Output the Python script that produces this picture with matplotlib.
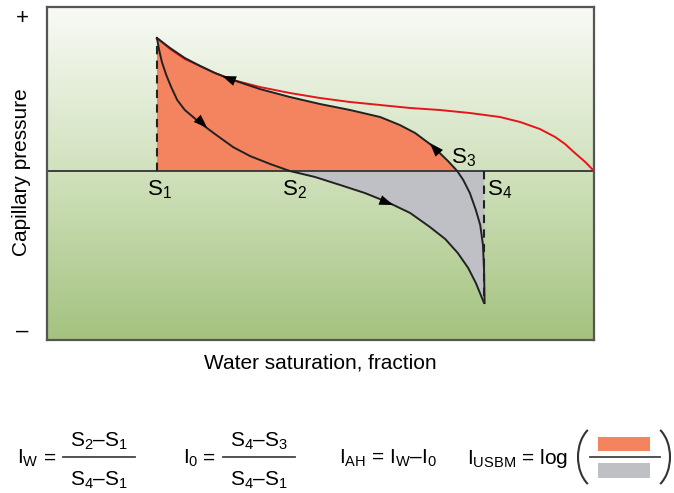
import numpy as np
import matplotlib
matplotlib.use("Agg")
from matplotlib import pyplot as plt
from matplotlib.colors import LinearSegmentedColormap
from matplotlib.patches import Arc, Rectangle

plt.rcParams["font.family"] = ["Liberation Sans", "DejaVu Sans"]
plt.rcParams["mathtext.fontset"] = "custom"
plt.rcParams["mathtext.rm"] = "Liberation Sans"
plt.rcParams["mathtext.it"] = "Liberation Sans"

# saturation (fraction of axis) and capillary pressure (arbitrary units)
secondary_drainage_sw = [0.800, 0.799, 0.797, 0.792, 0.784, 0.773, 0.761, 0.750, 0.733,
                         0.718, 0.700, 0.673, 0.645, 0.609, 0.554, 0.499, 0.444, 0.389,
                         0.340, 0.307, 0.280, 0.252, 0.225, 0.201]
secondary_drainage_pc = [-1.32, -0.99, -0.74, -0.54, -0.39, -0.22, -0.09, 0.00, 0.10,
                         0.18, 0.27, 0.38, 0.46, 0.54, 0.61, 0.67, 0.74, 0.82,
                         0.91, 0.98, 1.05, 1.13, 1.23, 1.33]

imbibition_sw = [0.201, 0.205, 0.210, 0.218, 0.227, 0.238, 0.252, 0.280, 0.307, 0.340,
                 0.371, 0.408, 0.444, 0.490, 0.536, 0.581, 0.622, 0.664, 0.700, 0.728,
                 0.751, 0.770, 0.784, 0.793, 0.799]
imbibition_pc = [1.33, 1.21, 1.09, 0.96, 0.84, 0.71, 0.61, 0.48, 0.37, 0.24,
                 0.15, 0.07, 0.00, -0.06, -0.14, -0.22, -0.31, -0.42, -0.56, -0.68,
                 -0.82, -0.97, -1.12, -1.24, -1.32]

primary_drainage_sw = [0.201, 0.225, 0.252, 0.280, 0.307, 0.340, 0.389, 0.444, 0.499,
                       0.554, 0.609, 0.664, 0.718, 0.773, 0.828, 0.865, 0.901, 0.929,
                       0.947, 0.965, 0.984, 1.000]
primary_drainage_pc = [1.33, 1.22, 1.12, 1.05, 0.98, 0.91, 0.84, 0.78, 0.73,
                       0.69, 0.66, 0.63, 0.61, 0.58, 0.54, 0.49, 0.42, 0.34,
                       0.27, 0.18, 0.09, 0.00]

s_points = {"1": 0.201, "2": 0.444, "3": 0.750, "4": 0.799}
pc_top = 1.33
pc_bottom = -1.32

# (tail, tip) of the arrow heads along the curves
arrows = [((0.353, 0.88), (0.320, 0.95)),
          ((0.715, 0.19), (0.700, 0.28)),
          ((0.274, 0.53), (0.293, 0.43)),
          ((0.609, -0.29), (0.633, -0.34))]

ORANGE = "#f4835f"
GRAY = "#bfc0c5"
RED = "#e3161b"
LINE = "#222222"

fig = plt.figure(figsize=(6.74, 4.93), dpi=100)
ax = fig.add_axes([47 / 674, 1 - 340 / 493, 547 / 674, 333 / 493])
ax.set_xlim(0, 1)
ax.set_ylim(-1.69, 1.64)

cmap = LinearSegmentedColormap.from_list(
    "bg", [(0.0, "#a4c27f"), (0.5, "#d0e1bc"), (1.0, "#f8faf5")])
grad = np.linspace(0, 1, 256).reshape(-1, 1)
ax.imshow(grad, cmap=cmap, origin="lower", aspect="auto",
          extent=(0, 1, -1.69, 1.64), zorder=0)

sd_x = np.array(secondary_drainage_sw)
sd_y = np.array(secondary_drainage_pc)
upper = sd_y >= 0
ax.fill(np.append(sd_x[upper], s_points["1"]), np.append(sd_y[upper], 0),
        color=ORANGE, lw=0, zorder=1)

im_x = np.array(imbibition_sw)
im_y = np.array(imbibition_pc)
lower = im_y <= 0
ax.fill(np.append(im_x[lower], s_points["4"]), np.append(im_y[lower], 0),
        color=GRAY, lw=0, zorder=1)

ax.axhline(0, color="#333333", lw=1.3, zorder=2)
ax.plot(primary_drainage_sw, primary_drainage_pc, color=RED, lw=1.4, zorder=3)
ax.plot(secondary_drainage_sw, secondary_drainage_pc, color=LINE, lw=1.4, zorder=4)
ax.plot(imbibition_sw, imbibition_pc, color=LINE, lw=1.4, zorder=4)
ax.plot([s_points["1"]] * 2, [0, pc_top], color=LINE, lw=1.5, ls=(0, (4, 3)), zorder=4)
ax.plot([s_points["4"]] * 2, [0, pc_bottom], color=LINE, lw=1.5, ls=(0, (4, 3)), zorder=4)

for tail, tip in arrows:
    ax.annotate("", xy=tip, xytext=tail, zorder=5,
                arrowprops=dict(arrowstyle="-|>,head_length=0.5,head_width=0.18",
                                mutation_scale=20, color="black", lw=0,
                                shrinkA=0, shrinkB=0))

ax.set_xticks([])
ax.set_yticks([])
for sp in ax.spines.values():
    sp.set_color("#555555")
    sp.set_linewidth(1.6)

# label overlay in pixel coordinates
ov = fig.add_axes([0, 0, 1, 1], zorder=10)
ov.set_xlim(0, 674)
ov.set_ylim(493, 0)
ov.axis("off")

ov.text(22, 18, "+", fontsize=16, ha="center", va="center")
ov.text(22, 331, "–", fontsize=16, ha="center", va="center")
ov.text(22, 172, "Capillary pressure", fontsize=15, rotation=90, ha="center", va="center")
ov.text(320, 363, "Water saturation, fraction", fontsize=15, ha="center", va="center")

ov.text(147, 195, "S$_1$", fontsize=16, va="baseline")
ov.text(282, 195, "S$_2$", fontsize=16, va="baseline")
ov.text(451, 163, "S$_3$", fontsize=16, va="baseline")
ov.text(487, 195, "S$_4$", fontsize=16, va="baseline")

fs = 15
ov.text(17, 464, "I$_\\mathrm{W}$", fontsize=fs, va="baseline")
ov.text(50, 464, "=", fontsize=fs, ha="center", va="baseline")
ov.plot([63, 135], [457, 457], color="#444444", lw=1.3)
ov.text(99, 447, "S$_2$–S$_1$", fontsize=fs, ha="center", va="baseline")
ov.text(99, 486, "S$_4$–S$_1$", fontsize=fs, ha="center", va="baseline")

ov.text(183, 464, "I$_0$", fontsize=fs, va="baseline")
ov.text(209, 464, "=", fontsize=fs, ha="center", va="baseline")
ov.plot([223, 295], [457, 457], color="#444444", lw=1.3)
ov.text(259, 447, "S$_4$–S$_3$", fontsize=fs, ha="center", va="baseline")
ov.text(259, 486, "S$_4$–S$_1$", fontsize=fs, ha="center", va="baseline")

ov.text(339, 464, "I$_\\mathrm{AH}$ = I$_\\mathrm{W}$–I$_0$", fontsize=fs, va="baseline")
ov.text(568, 464, "I$_\\mathrm{USBM}$ = log", fontsize=fs, ha="right", va="baseline")

ov.add_patch(Arc((601, 457), 46, 66, theta1=116, theta2=244, color="#333333", lw=1.5))
ov.add_patch(Arc((647, 457), 46, 66, theta1=-64, theta2=64, color="#333333", lw=1.5))
ov.add_patch(Rectangle((598, 437), 52, 14, color=ORANGE, lw=0))
ov.add_patch(Rectangle((598, 463), 52, 15, color=GRAY, lw=0))
ov.plot([590, 660], [457, 457], color="#444444", lw=1.3)

fig.savefig("out.png", dpi=100)
